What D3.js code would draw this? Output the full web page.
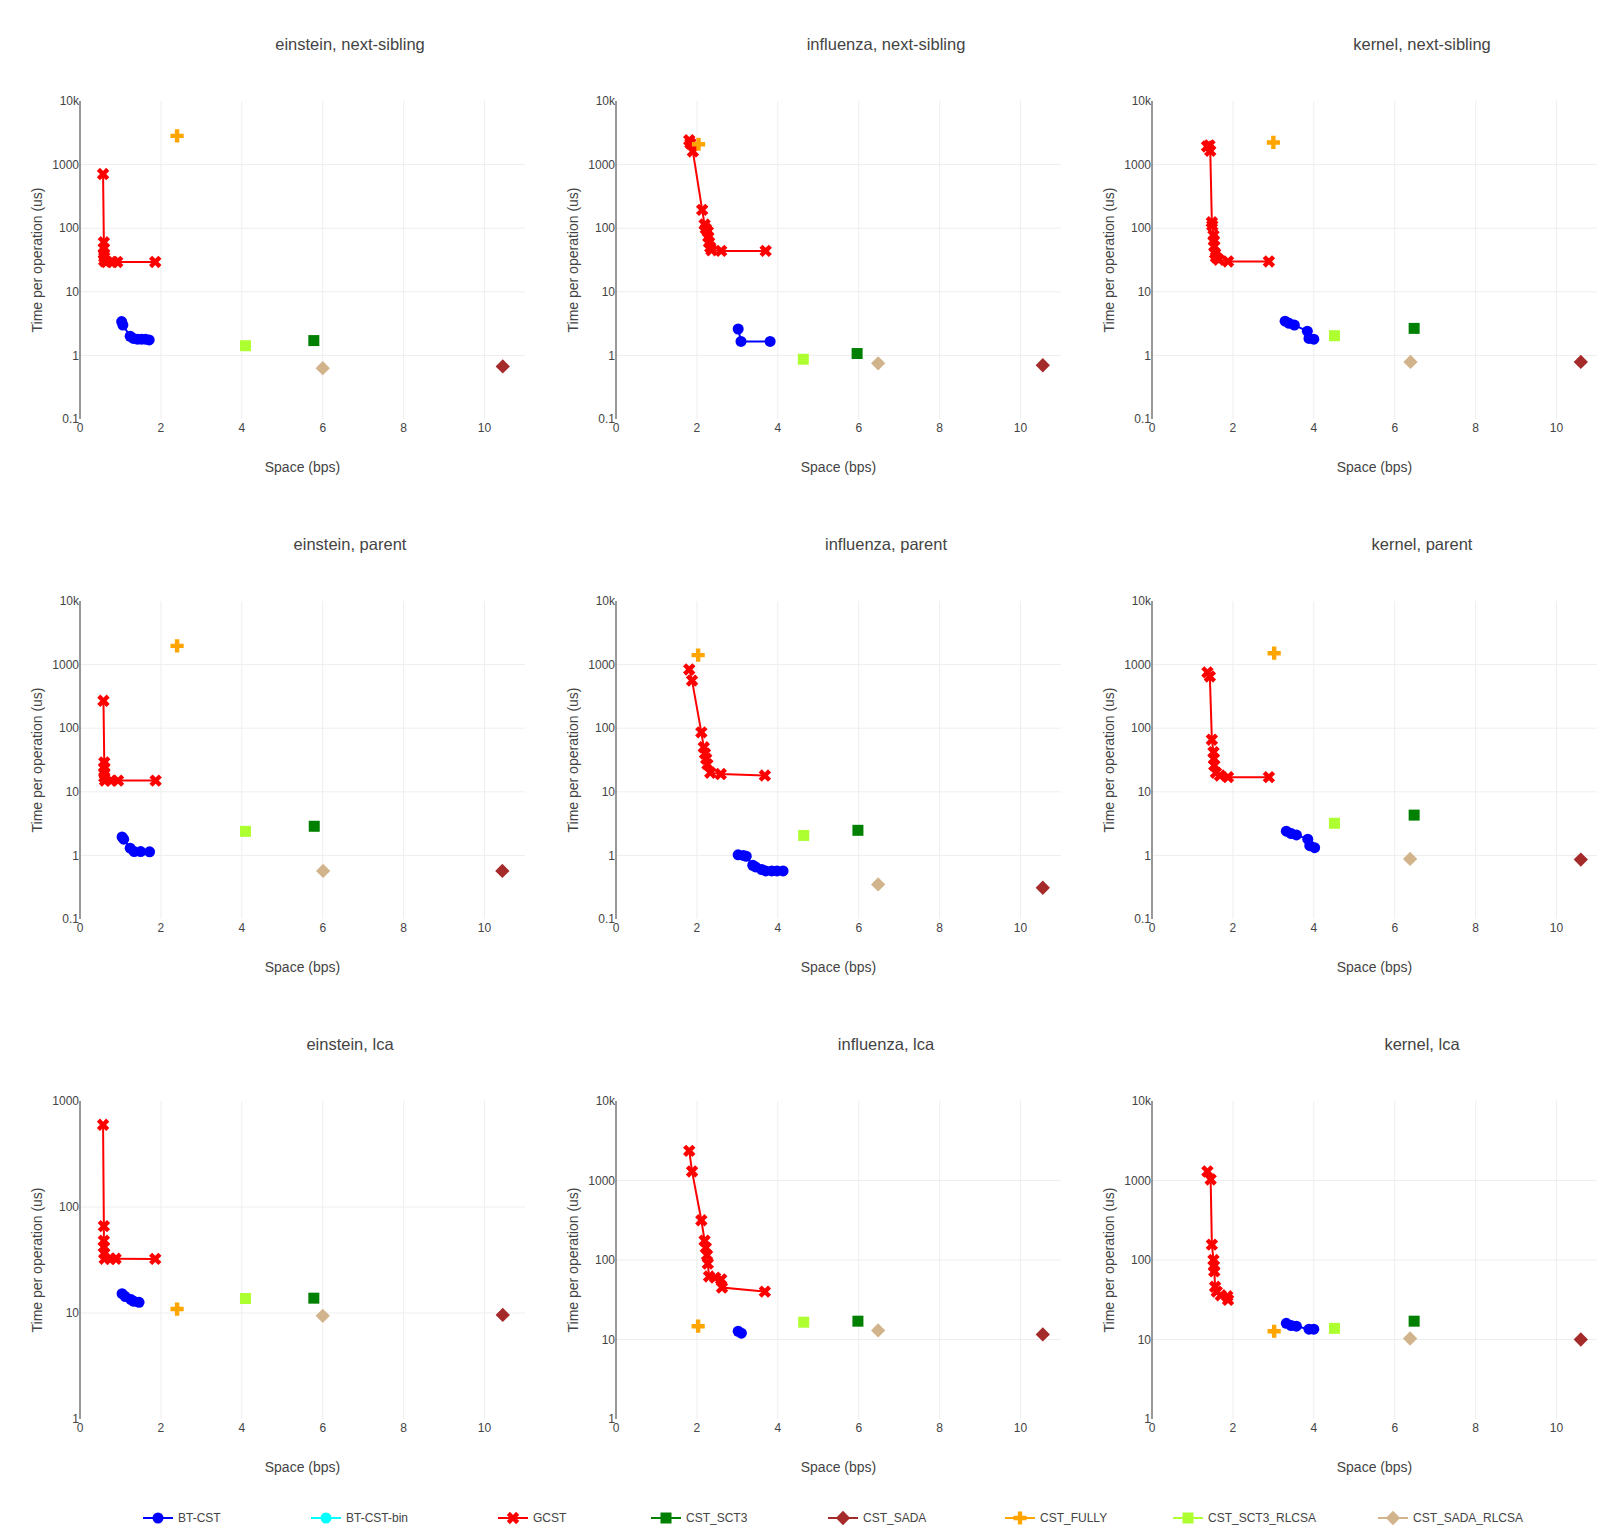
<!DOCTYPE html>
<html>
<head>
<meta charset="utf-8">
<script src="https://cdn.jsdelivr.net/npm/d3@7"></script>
<style>
  body { margin: 0; background: #fff; }
  text { font-family: "Liberation Sans", Arial, sans-serif; fill: #444; }
</style>
</head>
<body>
<div id="chart"></div>
<script>
// Datasets (columns) and operations (rows)
const datasets = ['einstein', 'influenza', 'kernel'];
const operations = ['next-sibling', 'parent', 'lca'];

const seriesNames = ['BT-CST', 'BT-CST-bin', 'GCST', 'CST_SCT3', 'CST_SADA',
                     'CST_FULLY', 'CST_SCT3_RLCSA', 'CST_SADA_RLCSA'];

const xTicks = [0, 2, 4, 6, 8, 10];
// y range per panel (row-major order)
const yRanges = [
  [0.1, 10000], [0.1, 10000], [0.1, 10000],
  [0.1, 10000], [0.1, 10000], [0.1, 10000],
  [1, 1000],    [1, 10000],   [1, 10000]
];

// [space (bps), time (us)] per panel, row-major
const btCst = [
  [[1.03,3.4],[1.06,3.0],[1.24,2.0],[1.32,1.85],[1.42,1.8],[1.52,1.8],[1.62,1.8],[1.71,1.75]],
  [[3.02,2.6],[3.09,1.66],[3.81,1.66]],
  [[3.29,3.45],[3.39,3.2],[3.52,3.0],[3.84,2.4],[3.88,1.85],[4.0,1.8]],
  [[1.04,1.95],[1.08,1.8],[1.24,1.3],[1.34,1.15],[1.5,1.15],[1.72,1.14]],
  [[3.02,1.02],[3.15,1.0],[3.22,0.97],[3.38,0.7],[3.45,0.66],[3.6,0.6],[3.7,0.57],[3.85,0.57],[3.98,0.57],[4.13,0.57]],
  [[3.32,2.4],[3.44,2.2],[3.57,2.1],[3.85,1.8],[3.9,1.42],[4.02,1.32]],
  [[1.04,15.2],[1.12,14.3],[1.26,13.4],[1.33,12.9],[1.46,12.6]],
  [[3.02,12.7],[3.1,12.0]],
  [[3.32,16],[3.44,15],[3.57,14.7],[3.88,13.5],[4.0,13.5]]
];
const btCstBin = [[], [], [], [], [], [], [], [], []];
const gcst = [
  [[0.57,710],[0.59,60],[0.59,48],[0.59,40],[0.6,35],[0.6,31],[0.62,30],[0.66,29.5],[0.8,29.5],[0.92,29.5],[1.86,29.5]],
  [[1.81,2420],[1.84,2150],[1.9,1610],[2.13,194],[2.19,114],[2.22,98],[2.27,88],[2.28,73],[2.3,60],[2.33,50],[2.36,45],[2.6,44],[3.7,44]],
  [[1.36,1930],[1.42,2000],[1.44,1650],[1.48,124],[1.49,110],[1.52,77],[1.53,64],[1.54,52],[1.56,40],[1.58,35],[1.65,32],[1.88,30],[2.89,30]],
  [[0.58,270],[0.6,29],[0.6,24],[0.6,20],[0.6,17],[0.62,15],[0.76,15],[0.94,15],[1.87,15]],
  [[1.81,840],[1.88,560],[2.11,86],[2.17,50],[2.2,40],[2.23,33],[2.26,27],[2.33,20],[2.59,19],[3.68,18]],
  [[1.37,755],[1.43,650],[1.48,66],[1.52,42],[1.53,33],[1.54,26],[1.58,20],[1.68,18],[1.88,17],[2.89,17]],
  [[0.57,596],[0.59,66],[0.59,48],[0.59,42],[0.6,36.5],[0.61,32.5],[0.75,32.5],[0.88,32.5],[1.86,32.4]],
  [[1.81,2360],[1.88,1300],[2.11,316],[2.19,175],[2.22,143],[2.25,115],[2.27,90],[2.3,62],[2.45,60],[2.6,57],[2.62,45],[3.68,40]],
  [[1.37,1300],[1.45,1030],[1.48,156],[1.52,100],[1.53,84],[1.54,72],[1.56,46],[1.6,40],[1.7,36],[1.86,35],[1.88,31.5]]
];
const cstSct3 = [[5.78,1.71],[5.96,1.07],[6.48,2.66],[5.79,2.87],[5.98,2.48],[6.48,4.3],[5.78,13.8],[5.98,17],[6.48,17]];
const cstSada = [[10.45,0.67],[10.55,0.70],[10.6,0.79],[10.44,0.57],[10.55,0.31],[10.6,0.86],[10.45,9.6],[10.55,11.6],[10.6,10]];
const cstFully = [[2.40,2830],[2.04,2090],[3.0,2230],[2.40,1970],[2.03,1410],[3.02,1510],[2.40,10.9],[2.03,14.7],[3.02,12.7]];
const cstSct3Rlcsa = [[4.09,1.42],[4.63,0.87],[4.51,2.04],[4.09,2.39],[4.64,2.06],[4.51,3.2],[4.09,13.7],[4.64,16.5],[4.51,13.8]];
const cstSadaRlcsa = [[6.0,0.63],[6.48,0.75],[6.39,0.79],[6.01,0.57],[6.48,0.35],[6.38,0.88],[6.0,9.4],[6.48,13],[6.38,10.3]];

// Estilo de cada serie (mismo orden que seriesNames)
const seriesStyle = [
  { data: btCst,        color: '#0000ff', symbol: 'circle',  line: true },
  { data: btCstBin,     color: '#00ffff', symbol: 'circle',  line: true },
  { data: gcst,         color: '#ff0000', symbol: 'x',       line: true },
  { data: cstSct3,      color: '#008000', symbol: 'square',  line: false },
  { data: cstSada,      color: '#a52a2a', symbol: 'diamond', line: false },
  { data: cstFully,     color: '#ffa500', symbol: 'cross',   line: false },
  { data: cstSct3Rlcsa, color: '#adff2f', symbol: 'square',  line: false },
  { data: cstSadaRlcsa, color: '#d2b48c', symbol: 'diamond', line: false }
];

// Layout
const width = 1603, height = 1535;
const plotLeft = 80, plotStepX = 536, plotW = 445;
const plotTop = 101, plotStepY = 500, plotH = 318;
const legendX = [138, 306, 493, 646, 823, 1000, 1168, 1373];
const legendY = 1518;
const markerSize = 11;

// Rutas de símbolos al estilo plotly
function symbolPath(type, size) {
  const r = size / 2;
  if (type === 'circle') {
    return `M${r},0A${r},${r} 0 1,1 0,-${r}A${r},${r} 0 0,1 ${r},0Z`;
  }
  if (type === 'square') {
    return `M${r},${r}H-${r}V-${r}H${r}Z`;
  }
  if (type === 'diamond') {
    const rd = r * 1.3;
    return `M${rd},0L0,${rd}L-${rd},0L0,-${rd}Z`;
  }
  if (type === 'cross') {
    const rc = r * 1.2, rc2 = r * 0.4;
    return `M${rc},${rc2}H${rc2}V${rc}H-${rc2}V${rc2}H-${rc}V-${rc2}H-${rc2}V-${rc}H${rc2}V-${rc2}H${rc}Z`;
  }
  // x
  const rx = r * 0.8 / Math.SQRT2;
  const ne = `l${rx},${rx}`, se = `l${rx},-${rx}`, sw = `l-${rx},-${rx}`, nw = `l-${rx},${rx}`;
  return `M0,${rx}${ne}${se}${sw}${se}${sw}${nw}${sw}${nw}${ne}${nw}${ne}Z`;
}

const svg = d3.select('#chart').append('svg')
  .attr('width', width)
  .attr('height', height);

svg.append('rect').attr('width', width).attr('height', height).attr('fill', '#fff');

const yTickFormat = v => v >= 10000 ? (v / 1000) + 'k' : String(v);

operations.forEach((op, row) => {
  datasets.forEach((ds, col) => {
    const idx = row * 3 + col;
    const left = plotLeft + col * plotStepX;
    const top = plotTop + row * plotStepY;

    const x = d3.scaleLinear().domain([0, 11]).range([0, plotW]);
    const y = d3.scaleLog().domain(yRanges[idx]).range([plotH, 0]);

    const g = svg.append('g').attr('transform', `translate(${left},${top})`);

    // Decadas para la rejilla y etiquetas
    const [y0, y1] = yRanges[idx];
    const decades = d3.range(Math.round(Math.log10(y0)), Math.round(Math.log10(y1)) + 1)
      .map(e => +Math.pow(10, e).toPrecision(1));

    // Rejilla
    g.append('g').selectAll('line.vg')
      .data(xTicks.filter(t => t > 0))
      .join('line')
      .attr('x1', d => x(d)).attr('x2', d => x(d))
      .attr('y1', 0).attr('y2', plotH)
      .attr('stroke', '#eee').attr('stroke-width', 1);

    g.append('g').selectAll('line.hg')
      .data(decades.slice(1, -1))
      .join('line')
      .attr('x1', 0).attr('x2', plotW)
      .attr('y1', d => y(d)).attr('y2', d => y(d))
      .attr('stroke', '#eee').attr('stroke-width', 1);

    // Eje Y (línea)
    g.append('line')
      .attr('x1', 0).attr('x2', 0)
      .attr('y1', 0).attr('y2', plotH)
      .attr('stroke', '#999').attr('stroke-width', 2);

    // Etiquetas de ejes
    g.append('g').selectAll('text')
      .data(decades)
      .join('text')
      .attr('x', -1)
      .attr('y', d => y(d))
      .attr('dy', '0.35em')
      .attr('text-anchor', 'end')
      .attr('font-size', 12)
      .text(yTickFormat);

    g.append('g').selectAll('text')
      .data(xTicks)
      .join('text')
      .attr('x', d => x(d))
      .attr('y', plotH + 13)
      .attr('text-anchor', 'middle')
      .attr('font-size', 12)
      .text(d => d);

    // Títulos
    g.append('text')
      .attr('x', 270)
      .attr('y', -51)
      .attr('text-anchor', 'middle')
      .attr('font-size', 16.5)
      .text(`${ds}, ${op}`);

    g.append('text')
      .attr('x', plotW / 2)
      .attr('y', plotH + 53)
      .attr('text-anchor', 'middle')
      .attr('font-size', 14)
      .text('Space (bps)');

    g.append('text')
      .attr('transform', `translate(${-38},${plotH / 2}) rotate(-90)`)
      .attr('text-anchor', 'middle')
      .attr('font-size', 14)
      .text('Time per operation (us)');

    // Series
    const line = d3.line().x(d => x(d[0])).y(d => y(d[1]));

    seriesStyle.forEach(s => {
      const raw = s.data[idx];
      const pts = raw.length && Array.isArray(raw[0]) ? raw : (raw.length ? [raw] : []);
      if (!pts.length) return;
      if (s.line && pts.length > 1) {
        g.append('path')
          .datum(pts)
          .attr('fill', 'none')
          .attr('stroke', s.color)
          .attr('stroke-width', 2)
          .attr('d', line);
      }
      g.append('g').selectAll('path')
        .data(pts)
        .join('path')
        .attr('transform', d => `translate(${x(d[0])},${y(d[1])})`)
        .attr('d', symbolPath(s.symbol, markerSize))
        .attr('fill', s.color);
    });
  });
});

// Leyenda
const legend = svg.append('g');
seriesNames.forEach((name, i) => {
  const s = seriesStyle[i];
  const item = legend.append('g').attr('transform', `translate(${legendX[i]},${legendY})`);
  item.append('line')
    .attr('x1', 5).attr('x2', 35)
    .attr('stroke', s.color).attr('stroke-width', 2);
  item.append('path')
    .attr('transform', 'translate(20,0)')
    .attr('d', symbolPath(s.symbol, markerSize))
    .attr('fill', s.color);
  item.append('text')
    .attr('x', 40)
    .attr('dy', '0.35em')
    .attr('font-size', 12)
    .text(name);
});
</script>
</body>
</html>
